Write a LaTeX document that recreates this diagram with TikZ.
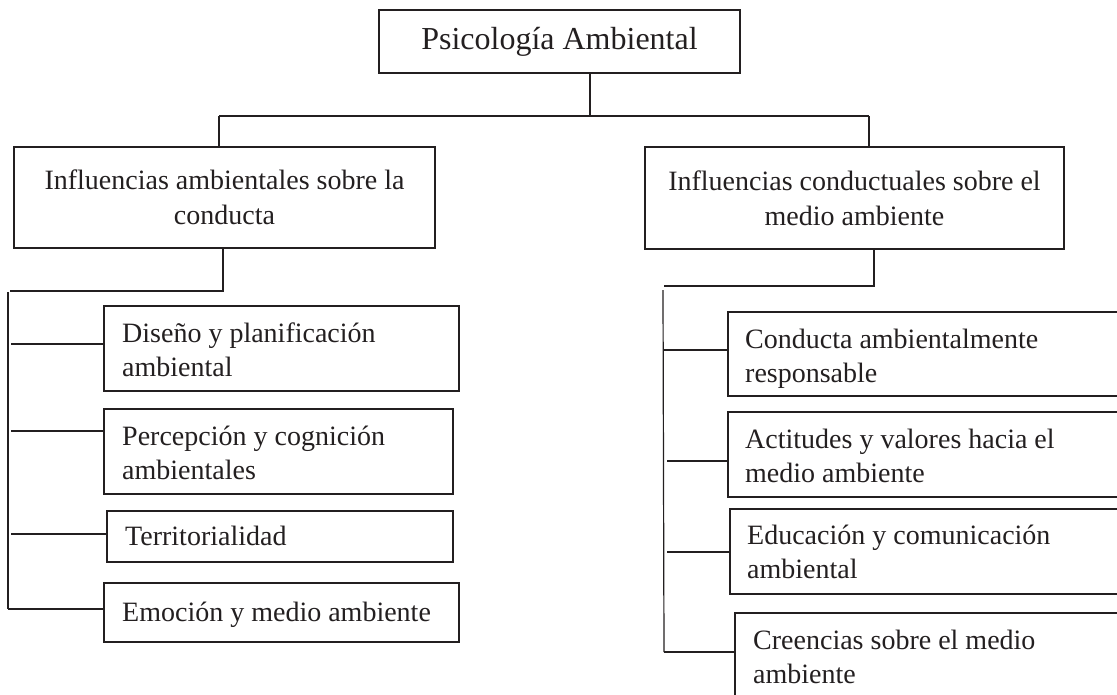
\documentclass[tikz,border=0pt]{standalone}
\usepackage{fontspec}
\setmainfont{Liberation Serif}
\definecolor{ink}{RGB}{35,31,32}
\begin{document}
\begin{tikzpicture}[x=1pt,y=-1pt,
  every node/.style={text=ink},
  mainbox/.style={draw=ink,line width=2.2pt,rectangle,inner sep=0pt,align=center,font=\fontsize{28}{35}\selectfont},
  topbox/.style={mainbox,font=\fontsize{32}{38}\selectfont},
  subbox/.style={draw=ink,line width=1.4pt,rectangle,inner sep=0pt},
  subtext/.style={anchor=base west,align=left,inner sep=0pt,font=\fontsize{28}{34}\selectfont},
  conn/.style={draw=ink,line width=1.2pt},
  thick conn/.style={draw=ink,line width=2pt}]
\useasboundingbox (0,0) rectangle (1117,694);
\clip (0,0) rectangle (1117,694);
% top
\node[topbox,minimum width=361pt,minimum height=63pt] (top) at (559.5,41.5) {Psicología Ambiental};
\node[mainbox,minimum width=421pt,minimum height=101pt] (L1) at (224.5,197.5) {Influencias ambientales sobre la\\conducta};
\node[mainbox,minimum width=419pt,minimum height=102pt] (R1) at (854.5,198) {Influencias conductuales sobre el\\medio ambiente};
% left children
\node[subbox,minimum width=355pt,minimum height=85pt] (D1) at (281.5,348.5) {};
\node[subbox,minimum width=349pt,minimum height=85pt] (D2) at (278.5,451.5) {};
\node[subbox,minimum width=346pt,minimum height=51pt] (D3) at (280,536.5) {};
\node[subbox,minimum width=355pt,minimum height=59pt] (D4) at (281.5,612.5) {};
\node[subtext] (D1t) at (122,376) {Diseño y planificación\\ambiental};
\node[subtext] (D2t) at (122,479) {Percepción y cognición\\ambientales};
\node[subtext] (D3t) at (125,545) {Territorialidad};
\node[subtext] (D4t) at (122,621) {Emoción y medio ambiente};
% right children
\node[subbox,minimum width=397pt,minimum height=84pt] (C1) at (926.5,354) {};
\node[subbox,minimum width=397pt,minimum height=85pt] (C2) at (926.5,454.5) {};
\node[subbox,minimum width=395pt,minimum height=85pt] (C3) at (927.5,551.5) {};
\node[subbox,minimum width=390pt,minimum height=97pt] (C4) at (930,661.5) {};
\node[subtext] (C1t) at (745,382) {Conducta ambientalmente\\responsable};
\node[subtext] (C2t) at (745,482) {Actitudes y valores hacia el\\medio ambiente};
\node[subtext] (C3t) at (747,578) {Educación y comunicación\\ambiental};
\node[subtext] (C4t) at (753,683) {Creencias sobre el medio\\ambiente};
% top connectors
\coordinate (j0) at (590,116);
\coordinate (jl) at (219,116);
\coordinate (jr) at (869,116);
\draw[thick conn] (j0 |- top.south) -- (j0);
\draw[thick conn] (jl) -- (jr);
\draw[conn] (jl) -- (jl |- L1.north);
\draw[conn] (jr) -- (jr |- R1.north);
% left tree
\coordinate (lb) at (223,291);
\coordinate (lc) at (10,291);
\coordinate (lt) at (8,292);
\coordinate (le) at (8,609);
\draw[conn] (lb |- L1.south) -- (lb) -- (lc);
\draw[conn] (lt) -- (le);
\coordinate (d1c) at (11,344);
\coordinate (d2c) at (11,431);
\coordinate (d3c) at (11,534);
\coordinate (d4c) at (8,609);
\draw[conn] (d1c) -- (d1c -| D1.west);
\draw[conn] (d2c) -- (d2c -| D2.west);
\draw[conn] (d3c) -- (d3c -| D3.west);
\draw[conn] (d4c) -- (d4c -| D4.west);
% right tree
\coordinate (rb) at (874,286);
\coordinate (rc) at (664,286);
\coordinate (rt) at (663,290);
\coordinate (re) at (664,652);
\draw[conn] (rb |- R1.south) -- (rb) -- (rc);
\draw[conn] (rt) -- (re);
\coordinate (c1c) at (664,350);
\coordinate (c2c) at (667,461);
\coordinate (c3c) at (667,552);
\coordinate (c4c) at (664,652);
\draw[conn] (c1c) -- (c1c -| C1.west);
\draw[conn] (c2c) -- (c2c -| C2.west);
\draw[conn] (c3c) -- (c3c -| C3.west);
\draw[conn] (c4c) -- (c4c -| C4.west);
\end{tikzpicture}
\end{document}
